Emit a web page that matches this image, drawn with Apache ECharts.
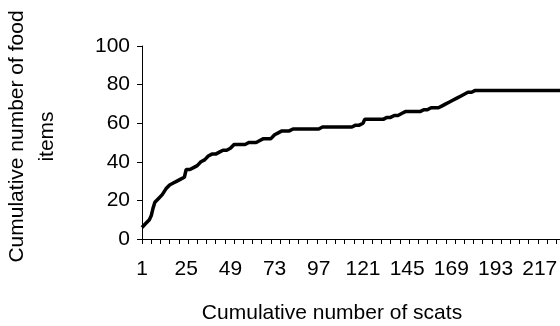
<!DOCTYPE html>
<html>
<head>
<meta charset="utf-8">
<script src="https://cdn.jsdelivr.net/npm/echarts@6/dist/echarts.min.js"></script>
<style>
html,body{margin:0;padding:0;background:#fff;}
#chart{width:560px;height:326px;}
</style>
</head>
<body>
<div id="chart"></div>
<script>
// Category labels: cumulative number of scats (1..228)
var scatCount = 228;
var categories = [];
for (var i = 1; i <= scatCount; i++) { categories.push(String(i)); }

// Cumulative number of food items
var foodItems = [
  6,7,8,9,10,12,16,19,20,21,22,23,23,26,27,28,28,29,29,30,
  31,31,32,32,36,36,36,36,37,37,38,39,40,40,41,42,43,44,44,44,
  44,45,45,45,46,46,46,46,47,48,49,49,49,49,49,49,49,49,50,50,
  50,50,50,51,51,51,52,52,52,52,52,52,54,55,55,55,56,56,56,56,
  56,57,57,57,57,57,57,57,57,57,57,57,57,57,57,57,57,58,58,58,
  58,58,58,58,58,58,58,58,58,58,58,58,58,58,58,59,59,59,59,60,
  60,62,62,62,62,62,62,62,62,62,62,62,62,63,63,63,64,64,64,64,
  64,65,65,66,66,66,66,66,66,66,66,66,66,67,67,67,68,68,68,68,
  68,68,69,69,70,70,71,71,72,72,72,73,73,74,74,75,76,76,76,76,
  76,77,77,77,77,77,77,77,77,77,77,77,77,77,77,77,77,77,77,77,
  77,77,77,77,77,77,77,77,77,77,77,77,77,77,77,77,77,77,77,77,
  77,77,77,77,77,77,77,77
];

var xTitle = 'Cumulative number of scats';
var yTitle = 'Cumulative number of food\nitems';

var FONT = '"Liberation Sans", Arial, sans-serif';
var chart = echarts.init(document.getElementById('chart'), null, {renderer: 'canvas'});
chart.setOption({
  animation: false,
  backgroundColor: '#ffffff',
  grid: {left: 142, right: 0, top: 46, bottom: 87, containLabel: false, outerBoundsMode: 'none'},
  xAxis: {
    type: 'category',
    data: categories,
    boundaryGap: false,
    name: xTitle,
    nameLocation: 'middle',
    nameGap: 64,
    nameTextStyle: {fontFamily: FONT, fontSize: 21, color: '#000', padding: [0, 38, 0, 0]},
    axisLine: {show: true, lineStyle: {color: '#000', width: 1}},
    axisTick: {show: true, interval: 4, length: 5, inside: false, lineStyle: {color: '#000', width: 1}},
    axisLabel: {interval: 23, color: '#000', fontFamily: FONT, fontSize: 21, margin: 20},
    splitLine: {show: false}
  },
  yAxis: {
    type: 'value',
    min: 0, max: 100, interval: 20,
    name: yTitle,
    nameLocation: 'middle',
    nameGap: 80,
    nameTextStyle: {fontFamily: FONT, fontSize: 21, color: '#000', lineHeight: 30, align: 'center', padding: [0, 0, 0, 12]},
    axisLine: {show: true, lineStyle: {color: '#000', width: 1}},
    axisTick: {show: true, length: 5, inside: false, lineStyle: {color: '#000', width: 1}},
    axisLabel: {color: '#000', fontFamily: FONT, fontSize: 21, margin: 12},
    splitLine: {show: false}
  },
  series: [{
    type: 'line',
    data: foodItems,
    showSymbol: false,
    symbol: 'none',
    lineStyle: {color: '#000', width: 3.5},
    z: 3
  }]
});
</script>
</body>
</html>
